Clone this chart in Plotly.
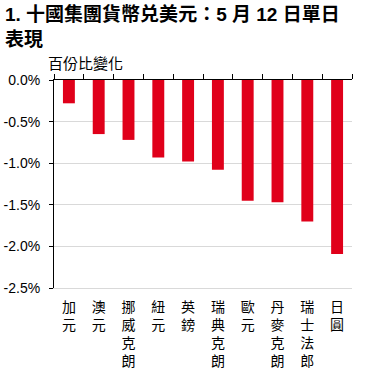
import plotly.graph_objects as go

categories = ["加元", "澳元", "挪威克朗", "紐元", "英鎊", "瑞典克朗", "歐元", "丹麥克朗", "瑞士法郎", "日圓"]
values = [-0.28, -0.65, -0.72, -0.93, -0.98, -1.08, -1.45, -1.47, -1.70, -2.09]
y_ticks = [0.0, -0.5, -1.0, -1.5, -2.0, -2.5]
y_tick_labels = ["0.0%", "-0.5%", "-1.0%", "-1.5%", "-2.0%", "-2.5%"]
title_text = "1. 十國集團貨幣兑美元：5 月 12 日單日<br>表現"
subtitle_text = "百份比變化"

FONT = "Liberation Sans, Arial, Noto Sans CJK TC, sans-serif"
RED = "#e0001a"

fig = go.Figure()
fig.add_trace(go.Bar(x=categories, y=values, marker=dict(color=RED, line=dict(width=0)),
                     width=0.4, showlegend=False, hoverinfo="skip"))
fig.add_trace(go.Bar(x=categories, y=values, xaxis="x2", marker=dict(color="rgba(0,0,0,0)", line=dict(width=0)),
                     width=0.4, showlegend=False, hoverinfo="skip"))

PLOT_H = 372 - 80 - 84
PLOT_W = 370 - 54 - 18

fig.update_layout(
    width=370, height=372,
    margin=dict(l=54, r=18, t=80, b=84),
    paper_bgcolor="white", plot_bgcolor="white",
    font=dict(family=FONT, color="#000000", size=14),
    xaxis=dict(range=[-0.5, 9.5], tickvals=categories, ticktext=["<br>".join(c) for c in categories],
               showline=True, linecolor="#d9d9d9", linewidth=1, ticks="", showgrid=False, automargin=False,
               tickfont=dict(size=14, family=FONT, color="#000000"), tickangle=0, ticklabelstandoff=6),
    xaxis2=dict(overlaying="x", side="top", matches="x", range=[-0.5, 9.5], showline=True, automargin=False,
                linecolor="#000000", linewidth=1, ticks="outside", ticklen=5, tickcolor="#000000",
                tickson="boundaries", showticklabels=False, showgrid=False),
    yaxis=dict(range=[-2.5, 0], tickvals=y_ticks, ticktext=y_tick_labels, showgrid=True, automargin=False,
               gridcolor="#d9d9d9", gridwidth=1, zeroline=False, showline=True, linecolor="#000000",
               linewidth=1, ticks="outside", ticklen=4, tickcolor="#000000", ticklabelstandoff=6,
               tickfont=dict(size=14, family=FONT, color="#000000")),
    annotations=[
        dict(text="<b>" + title_text + "</b>", xref="paper", yref="paper",
             x=-51 / PLOT_W, y=1 + 80 / PLOT_H, xanchor="left", yanchor="top", yshift=-1,
             align="left", showarrow=False, font=dict(size=19, family=FONT, color="#000000")),
        dict(text=subtitle_text, xref="paper", yref="paper", x=-8 / PLOT_W, y=1.0, xanchor="left",
             yanchor="bottom", yshift=6, showarrow=False, font=dict(size=15, family=FONT, color="#000000")),
    ],
)

fig.write_html("out.html", config={"displayModeBar": False},
               post_script="document.body.style.margin='0px';")
